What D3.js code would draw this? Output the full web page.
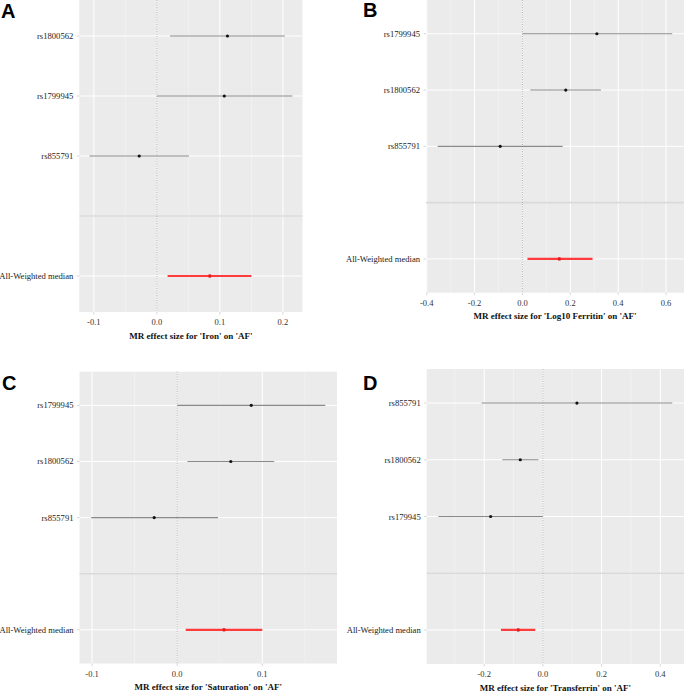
<!DOCTYPE html>
<html>
<head>
<meta charset="utf-8">
<script src="https://cdn.jsdelivr.net/npm/d3@7"></script>
<style>
    body { margin: 0; background: #fff; }
    svg { display: block; }
</style>
</head>
<body>
<div id="chart"></div>
<script>
// Values (beta, lower CI, upper CI)
const exposures = ["Iron", "Log10 Ferritin", "Saturation", "Transferrin"];
const panelLetters = ["A", "B", "C", "D"];

const snpsA = ["rs1800562", "rs1799945", "rs855791"];
const betaA = [0.112, 0.107, -0.028];
const lowerA = [0.021, 0.0, -0.107];
const upperA = [0.203, 0.215, 0.051];
const medianA = [0.084, 0.017, 0.150];
const ticksA = [-0.1, 0.0, 0.1, 0.2];

const snpsB = ["rs1799945", "rs1800562", "rs855791"];
const betaB = [0.311, 0.181, -0.093];
const lowerB = [0.0, 0.033, -0.354];
const upperB = [0.626, 0.328, 0.168];
const medianB = [0.154, 0.021, 0.293];
const ticksB = [-0.4, -0.2, 0.0, 0.2, 0.4, 0.6];

const snpsC = ["rs1799945", "rs1800562", "rs855791"];
const betaC = [0.087, 0.063, -0.027];
const lowerC = [0.0, 0.012, -0.101];
const upperC = [0.174, 0.114, 0.048];
const medianC = [0.055, 0.010, 0.100];
const ticksC = [-0.1, 0.0, 0.1];

const snpsD = ["rs855791", "rs1800562", "rs179945"];
const betaD = [0.116, -0.077, -0.178];
const lowerD = [-0.209, -0.138, -0.356];
const upperD = [0.441, -0.015, 0.0];
const medianD = [-0.084, -0.143, -0.026];
const ticksD = [-0.2, 0.0, 0.2, 0.4];

const summaryLabel = "All-Weighted median";

document.addEventListener('DOMContentLoaded', function () {
    const width = 685;
    const height = 693;
    const serif = "'Liberation Serif', 'Times New Roman', serif";

    const svg = d3.select("#chart")
        .append("svg")
        .attr("width", width)
        .attr("height", height);

    svg.append("rect").attr("width", width).attr("height", height).attr("fill", "#fff");

    // panel boxes on the page
    const boxes = [
        { left: 79.3, right: 302.5, top: 0, bottom: 312, letterX: 1, letterY: 18 },
        { left: 426, right: 684, top: 0, bottom: 292.7, letterX: 363, letterY: 17 },
        { left: 79.5, right: 337, top: 371.7, bottom: 663.5, letterX: 2, letterY: 390 },
        { left: 426.7, right: 684, top: 369, bottom: 664, letterX: 363, letterY: 390 }
    ];

    const panels = [
        { snps: snpsA, beta: betaA, lower: lowerA, upper: upperA, median: medianA, ticks: ticksA },
        { snps: snpsB, beta: betaB, lower: lowerB, upper: upperB, median: medianB, ticks: ticksB },
        { snps: snpsC, beta: betaC, lower: lowerC, upper: upperC, median: medianC, ticks: ticksC },
        { snps: snpsD, beta: betaD, lower: lowerD, upper: upperD, median: medianD, ticks: ticksD }
    ];

    panels.forEach((p, i) => {
        const box = boxes[i];
        const g = svg.append("g");

        const lo = d3.min(p.lower.concat([p.median[1]]));
        const hi = d3.max(p.upper.concat([p.median[2]]));
        const pad = (hi - lo) * 0.05;

        const x = d3.scaleLinear()
            .domain([lo - pad, hi + pad])
            .range([box.left, box.right]);

        const rows = p.snps.concat(["", summaryLabel]);
        const y = d3.scalePoint()
            .domain(rows)
            .range([box.top, box.bottom])
            .padding(0.6);

        // panel background
        g.append("rect")
            .attr("x", box.left)
            .attr("y", box.top)
            .attr("width", box.right - box.left)
            .attr("height", box.bottom - box.top)
            .attr("fill", "#ebebeb");

        // minor grid
        const step = p.ticks[1] - p.ticks[0];
        const minors = d3.range(p.ticks.length + 1)
            .map(k => p.ticks[0] - step / 2 + k * step)
            .filter(v => v > x.domain()[0] && v < x.domain()[1]);

        g.selectAll(".minor")
            .data(minors)
            .enter()
            .append("line")
            .attr("x1", d => x(d)).attr("x2", d => x(d))
            .attr("y1", box.top).attr("y2", box.bottom)
            .attr("stroke", "#f5f5f5")
            .attr("stroke-width", 0.6);

        // major grid
        g.selectAll(".vmajor")
            .data(p.ticks)
            .enter()
            .append("line")
            .attr("x1", d => x(d)).attr("x2", d => x(d))
            .attr("y1", box.top).attr("y2", box.bottom)
            .attr("stroke", "#fff")
            .attr("stroke-width", 1);

        g.selectAll(".hmajor")
            .data(rows)
            .enter()
            .append("line")
            .attr("x1", box.left).attr("x2", box.right)
            .attr("y1", d => y(d)).attr("y2", d => y(d))
            .attr("stroke", "#fff")
            .attr("stroke-width", 1);

        // separator between SNPs and summary
        g.append("line")
            .attr("x1", box.left).attr("x2", box.right)
            .attr("y1", y("")).attr("y2", y(""))
            .attr("stroke", "#d9d9d9")
            .attr("stroke-width", 1.6);

        // null line
        g.append("line")
            .attr("x1", x(0)).attr("x2", x(0))
            .attr("y1", box.top).attr("y2", box.bottom)
            .attr("stroke", "#9a9a9a")
            .attr("stroke-width", 0.8)
            .attr("stroke-dasharray", "1,1.4");

        // SNP estimates
        const snpData = p.snps.map((s, k) => ({ snp: s, b: p.beta[k], lo: p.lower[k], hi: p.upper[k] }));

        g.selectAll(".ci")
            .data(snpData)
            .enter()
            .append("line")
            .attr("x1", d => x(d.lo)).attr("x2", d => x(d.hi))
            .attr("y1", d => y(d.snp)).attr("y2", d => y(d.snp))
            .attr("stroke", "#8a8a8a")
            .attr("stroke-width", 1.1);

        g.selectAll(".pt")
            .data(snpData)
            .enter()
            .append("circle")
            .attr("cx", d => x(d.b))
            .attr("cy", d => y(d.snp))
            .attr("r", 1.6)
            .attr("fill", "#111");

        // weighted median
        g.append("line")
            .attr("x1", x(p.median[1])).attr("x2", x(p.median[2]))
            .attr("y1", y(summaryLabel)).attr("y2", y(summaryLabel))
            .attr("stroke", "#ff3b3b")
            .attr("stroke-width", 2.2);

        g.append("rect")
            .attr("x", x(p.median[0]) - 1.3)
            .attr("y", y(summaryLabel) - 1.6)
            .attr("width", 2.6)
            .attr("height", 3.2)
            .attr("fill", "#e31a1a");

        // y labels
        g.selectAll(".ylab")
            .data(rows.filter(r => r !== ""))
            .enter()
            .append("text")
            .attr("x", box.left - 6)
            .attr("y", d => y(d) + 3)
            .attr("text-anchor", "end")
            .attr("font-family", serif)
            .attr("font-size", 8.6)
            .attr("fill", "#222")
            .text(d => d);

        g.selectAll(".ytick")
            .data(rows.filter(r => r !== ""))
            .enter()
            .append("line")
            .attr("x1", box.left - 2.5).attr("x2", box.left)
            .attr("y1", d => y(d)).attr("y2", d => y(d))
            .attr("stroke", "#bbb")
            .attr("stroke-width", 0.6);

        // x axis
        g.selectAll(".xtick")
            .data(p.ticks)
            .enter()
            .append("line")
            .attr("x1", d => x(d)).attr("x2", d => x(d))
            .attr("y1", box.bottom).attr("y2", box.bottom + 2.5)
            .attr("stroke", "#bbb")
            .attr("stroke-width", 0.6);

        g.selectAll(".xlab")
            .data(p.ticks)
            .enter()
            .append("text")
            .attr("x", d => x(d))
            .attr("y", box.bottom + 13)
            .attr("text-anchor", "middle")
            .attr("font-family", serif)
            .attr("font-size", 8.5)
            .attr("fill", "#333")
            .text(d => d3.format(".1f")(d).replace("−", "-"));

        g.append("text")
            .attr("x", (box.left + box.right) / 2)
            .attr("y", box.bottom + 26.5)
            .attr("text-anchor", "middle")
            .attr("font-family", serif)
            .attr("font-weight", "bold")
            .attr("font-size", 9)
            .attr("fill", "#111")
            .text(`MR effect size for '${exposures[i]}' on 'AF'`);

        // panel letter
        svg.append("text")
            .attr("x", box.letterX)
            .attr("y", box.letterY)
            .attr("font-family", "'Liberation Sans', Arial, sans-serif")
            .attr("font-weight", "bold")
            .attr("font-size", 20)
            .attr("fill", "#000")
            .text(panelLetters[i]);
    });
});
</script>
</body>
</html>
